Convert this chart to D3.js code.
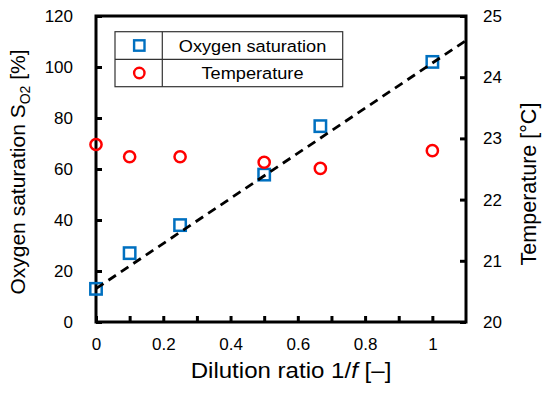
<html>
<head>
  <script src="https://d3js.org/d3.v7.min.js"></script>
  <style>
  body { margin: 0; background: #fff; }
  text { font-family: "Liberation Sans", Arial, sans-serif; fill: #000; }
  </style>
</head>
<body>
<div id="chart"></div>
<script type="text/javascript">

// data
const dilution = [0, 0.1, 0.25, 0.5, 0.667, 1];
const saturation = [13, 27, 38, 57.8, 76.8, 102];
const temperature = [22.9, 22.7, 22.7, 22.61, 22.51, 22.8];
// dashed linear fit, end points
const fitX = [0, 1.1];
const fitY = [13.1, 110.4];

const xMajor = [0, 0.2, 0.4, 0.6, 0.8, 1];
const xMinor = [0.1, 0.3, 0.5, 0.7, 0.9];
const yLeftTicks = [0, 20, 40, 60, 80, 100, 120];
const yRightTicks = [20, 21, 22, 23, 24, 25];
const legendLabels = ["Oxygen saturation", "Temperature"];

const blue = "#0070c0";
const red = "#ff0000";

const svg = d3.select("#chart")
  .append("svg")
  .attr("width", 550)
  .attr("height", 396);

const plotL = 96, plotR = 466, plotT = 16, plotB = 322;

const xScale = d3.scaleLinear().domain([0, 1.1]).range([plotL, plotR]);
const yLeft = d3.scaleLinear().domain([0, 120]).range([plotB, plotT]);
const yRight = d3.scaleLinear().domain([20, 25]).range([plotB, plotT]);

// axes (ticks point inward)
const gx = svg.append("g")
  .attr("transform", `translate(0,${plotB})`)
  .call(d3.axisBottom(xScale).tickValues(xMajor).tickSizeInner(-6).tickSizeOuter(0)
    .tickPadding(16).tickFormat(d => String(d)));
const gxm = svg.append("g")
  .attr("transform", `translate(0,${plotB})`)
  .call(d3.axisBottom(xScale).tickValues(xMinor).tickSizeInner(-6).tickSizeOuter(0).tickFormat(""));
const gyl = svg.append("g")
  .attr("transform", `translate(${plotL},0)`)
  .call(d3.axisLeft(yLeft).tickValues(yLeftTicks).tickSizeInner(-6).tickSizeOuter(0)
    .tickPadding(23).tickFormat(d3.format("d")));
const gyr = svg.append("g")
  .attr("transform", `translate(${plotR},0)`)
  .call(d3.axisRight(yRight).tickValues(yRightTicks).tickSizeInner(-6).tickSizeOuter(0)
    .tickPadding(17).tickFormat(d3.format("d")));

[gx, gxm, gyl, gyr].forEach(g => {
  g.select(".domain").remove();
  g.selectAll(".tick line").attr("stroke", "#000").attr("stroke-width", 3);
  g.selectAll(".tick text").style("font-size", "17px").attr("fill", "#000");
});

// frame
svg.append("rect")
  .attr("x", plotL).attr("y", plotT)
  .attr("width", plotR - plotL).attr("height", plotB - plotT)
  .attr("fill", "none").attr("stroke", "#000").attr("stroke-width", 3);

// squares
svg.selectAll(".sq")
  .data(dilution.map((d, i) => [d, saturation[i]]))
  .enter().append("rect")
  .attr("class", "sq")
  .attr("x", d => xScale(d[0]) - 5.7)
  .attr("y", d => yLeft(d[1]) - 5.7)
  .attr("width", 11.4).attr("height", 11.4)
  .attr("fill", "none").attr("stroke", blue).attr("stroke-width", 2.5);

// fit line
const line = d3.line().x(d => xScale(d[0])).y(d => yLeft(d[1]));
svg.append("path")
  .datum(fitX.map((d, i) => [d, fitY[i]]))
  .attr("d", line)
  .attr("fill", "none")
  .attr("stroke", "#000")
  .attr("stroke-width", 2.8)
  .attr("stroke-dasharray", "9,6");

// circles
svg.selectAll(".ci")
  .data(dilution.map((d, i) => [d, temperature[i]]))
  .enter().append("circle")
  .attr("class", "ci")
  .attr("cx", d => xScale(d[0]))
  .attr("cy", d => yRight(d[1]))
  .attr("r", 5.6)
  .attr("fill", "none").attr("stroke", red).attr("stroke-width", 2.5);

// legend table
const lg = svg.append("g");
const lx0 = 115, lx1 = 342.7, ldiv = 162.3, ly0 = 31.7, lmid = 59.3, ly1 = 86.7;
lg.append("rect")
  .attr("x", lx0).attr("y", ly0).attr("width", lx1 - lx0).attr("height", ly1 - ly0)
  .attr("fill", "#fff").attr("stroke", "#333").attr("stroke-width", 1.2);
lg.append("line").attr("x1", ldiv).attr("x2", ldiv).attr("y1", ly0).attr("y2", ly1)
  .attr("stroke", "#333").attr("stroke-width", 1.2);
lg.append("line").attr("x1", lx0).attr("x2", lx1).attr("y1", lmid).attr("y2", lmid)
  .attr("stroke", "#333").attr("stroke-width", 1.2);
lg.append("rect")
  .attr("x", 139.3 - 5.2).attr("y", 45.5 - 5.2).attr("width", 10.4).attr("height", 10.4)
  .attr("fill", "none").attr("stroke", blue).attr("stroke-width", 2.4);
lg.append("circle")
  .attr("cx", 139.3).attr("cy", 73).attr("r", 5.2)
  .attr("fill", "none").attr("stroke", red).attr("stroke-width", 2.4);
legendLabels.forEach((t, i) => {
  const cy = i === 0 ? (ly0 + lmid) / 2 : (lmid + ly1) / 2;
  lg.append("text")
    .attr("transform", `translate(${(ldiv + lx1) / 2},${cy + 6}) scale(1.07,1)`)
    .attr("text-anchor", "middle")
    .style("font-size", "17px")
    .text(t);
});

// x label
const xl = svg.append("text")
  .attr("transform", "translate(291,378) scale(1.12,1)")
  .attr("text-anchor", "middle")
  .style("font-size", "21.5px");
xl.append("tspan").text("Dilution ratio 1/");
xl.append("tspan").style("font-style", "italic").text("f");
xl.append("tspan").text(" [\u2013]");

// left y label
const yl = svg.append("text")
  .attr("transform", "translate(25,172) rotate(-90)")
  .attr("text-anchor", "middle")
  .style("font-size", "21px");
yl.append("tspan").text("Oxygen saturation S");
yl.append("tspan").attr("dy", 5).style("font-size", "14px").text("O2");
yl.append("tspan").attr("dy", -5).text(" [%]");

// right y label
svg.append("text")
  .attr("transform", "translate(535.5,184) rotate(-90)")
  .attr("text-anchor", "middle")
  .style("font-size", "21.5px")
  .text("Temperature [\u00b0C]");

</script>
</body>
</html>
